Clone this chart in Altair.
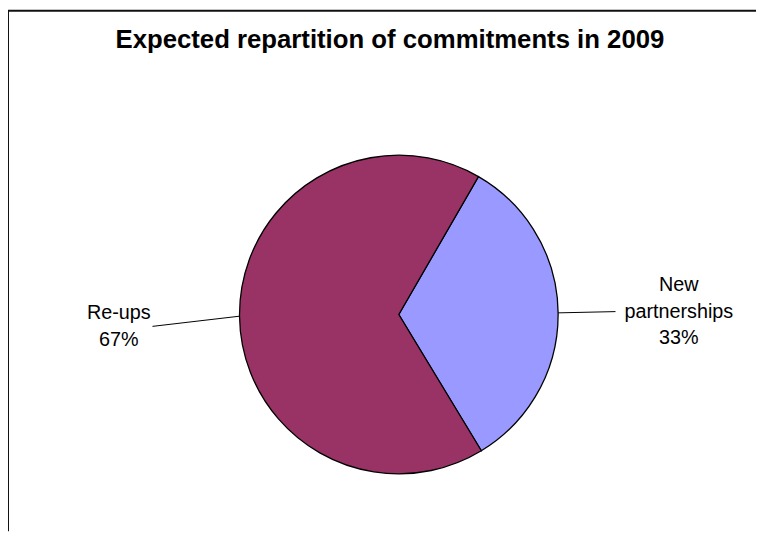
import altair as alt
import pandas as pd
import numpy as np

# ---- data ----
categories = ["New partnerships", "Re-ups"]
shares = [33, 67]
label_lines = [["New", "partnerships", "33%"], ["Re-ups", "67%"]]
title_text = "Expected repartition of commitments in 2009"

# ---- style / layout ----
colors = ["#9999FF", "#993366"]
W, H = 756, 526
CX, CY = 395, 307
R = 161
START_DEG = 30
LABEL_R = 283
LABEL_FONT = 20
LINE_H = 27
TITLE_FONT = 26
LEFT_LABEL_DY = 9   # Excel drops the left-hand label slightly below the slice's mid angle

df = pd.DataFrame({"category": categories, "share": shares, "idx": list(range(len(categories)))})

total = float(sum(shares))
cum = np.cumsum([0] + shares[:-1])
mid_deg = START_DEG + (cum + np.array(shares) / 2.0) / total * 360.0
mid = np.deg2rad(mid_deg)
sx, cy_ = np.sin(mid), np.cos(mid)
side = np.sign(sx)

lab_x = CX + LABEL_R * sx
lab_y = CY - LABEL_R * cy_ + np.where(side < 0, LEFT_LABEL_DY, 0)
n_lines = np.array([len(l) for l in label_lines])
half_w = np.array([max(len(s) for s in lines) * 0.25 * LABEL_FONT for lines in label_lines])

labels = pd.DataFrame({
    "category": categories,
    "text": label_lines,
    "x": lab_x,
    "y": lab_y - (n_lines - 1) * LINE_H / 2.0,
})
leaders = pd.DataFrame({
    "category": categories,
    "x": CX + R * sx,
    "y": CY - R * cy_,
    "x2": lab_x - side * (half_w + 4),
    "y2": lab_y,
})

pie = alt.Chart(df).mark_arc(outerRadius=R, stroke="black", strokeWidth=1.3).encode(
    theta=alt.Theta("share:Q", stack=True,
                    scale=alt.Scale(range=[np.deg2rad(START_DEG), np.deg2rad(START_DEG) + 2 * np.pi])),
    color=alt.Color("category:N", scale=alt.Scale(domain=categories, range=colors), legend=None),
    order=alt.Order("idx:Q"),
    x=alt.value(CX),
    y=alt.value(CY),
)

lead = alt.Chart(leaders).mark_rule(color="black", strokeWidth=1).encode(
    x=alt.X("x:Q", scale=None, axis=None),
    y=alt.Y("y:Q", scale=None, axis=None),
    x2="x2:Q",
    y2="y2:Q",
)

text = alt.Chart(labels).mark_text(
    font="Liberation Sans", fontSize=LABEL_FONT, color="black",
    align="center", baseline="middle", lineHeight=LINE_H,
).encode(
    x=alt.X("x:Q", scale=None, axis=None),
    y=alt.Y("y:Q", scale=None, axis=None),
    text="text",
)

title = alt.Chart(pd.DataFrame({"t": [title_text]})).mark_text(
    font="Liberation Sans", fontSize=TITLE_FONT, fontWeight="bold", color="black",
    align="center", baseline="middle",
).encode(x=alt.value(386), y=alt.value(30), text="t:N")

frame_left = alt.Chart(pd.DataFrame({"a": [0]})).mark_rule(color="#111", strokeWidth=2).encode(
    x=alt.value(0), y=alt.value(0), y2=alt.value(H))
frame_top = alt.Chart(pd.DataFrame({"a": [0]})).mark_rule(color="#111", strokeWidth=2).encode(
    x=alt.value(0), x2=alt.value(W), y=alt.value(0))

chart = alt.layer(frame_left, frame_top, pie, lead, text, title).properties(
    width=W, height=H, padding=0, autosize=alt.AutoSizeParams(type="none"),
).configure_view(stroke=None)

chart.save("out.html", embed_options={"renderer": "svg", "actions": False})
